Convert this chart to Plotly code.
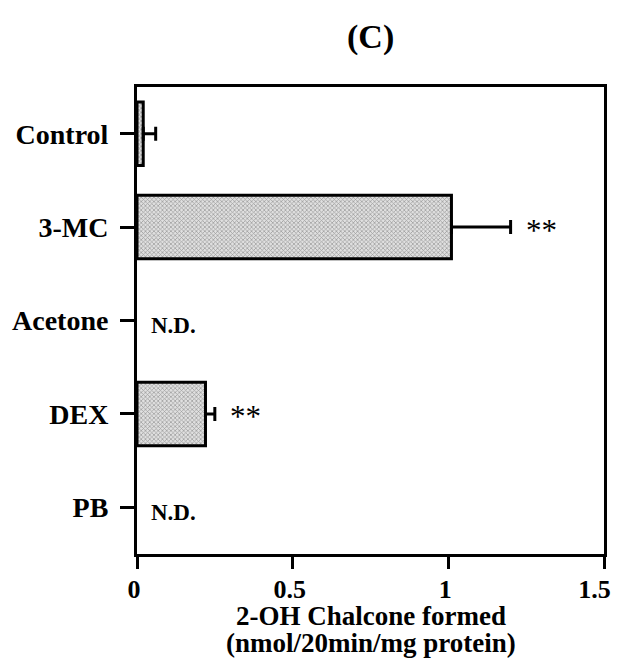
import plotly.graph_objects as go

categories = ["Control", "3-MC", "Acetone", "DEX", "PB"]
values = [0.02, 1.01, None, 0.22, None]
errors = [0.04, 0.19, 0, 0.03, 0]
x_ticks = [0, 0.5, 1, 1.5]
x_tick_labels = ["0", "0.5", "1", "1.5\u00a0\u00a0"]
significance = ["", "**", "", "**", ""]
not_detected = [False, False, True, False, True]
x_title_lines = ["2-OH Chalcone formed", "(nmol/20min/mg protein)"]

FONT = "Liberation Serif"

fig = go.Figure()
fig.add_trace(go.Bar(
    y=list(range(len(categories))),
    x=values,
    orientation="h",
    width=0.68,
    marker=dict(
        color="#c8c8c8",
        line=dict(color="black", width=3),
        pattern=dict(shape="x", size=3, solidity=0.4, fgcolor="#505050", bgcolor="#e0e0e0"),
    ),
    error_x=dict(type="data", symmetric=False, array=errors, arrayminus=[0] * len(errors),
                 color="black", thickness=3, width=7),
    showlegend=False,
))

for i, cat in enumerate(categories):
    if significance[i]:
        fig.add_annotation(x=values[i] + errors[i], y=i, text=significance[i], showarrow=False,
                           xanchor="left", yanchor="middle", xshift=13, yshift=-3,
                           font=dict(family=FONT, size=31, color="black"))
    if not_detected[i]:
        fig.add_annotation(x=0, y=i, text="<b>N.D.</b>", showarrow=False,
                           xanchor="left", yanchor="middle", xshift=12, yshift=-5,
                           font=dict(family=FONT, size=23, color="black"))

fig.add_annotation(x=0.5, y=1, xref="paper", yref="paper", yanchor="middle", yshift=50,
                   text="<b>(C)</b>", showarrow=False,
                   font=dict(family=FONT, size=34, color="black"))

for j, line in enumerate(x_title_lines):
    fig.add_annotation(x=0.5, y=0, xref="paper", yref="paper", yanchor="middle",
                       yshift=-62 - 27 * j, text="<b>" + line + "</b>", showarrow=False,
                       font=dict(family=FONT, size=27, color="black"))

fig.update_layout(
    width=611, height=651,
    margin=dict(l=129, r=15, t=79, b=105, autoexpand=False),
    plot_bgcolor="white", paper_bgcolor="white",
)
fig.update_xaxes(
    range=[0, 1.5], tickvals=x_ticks, ticktext=x_tick_labels,
    showgrid=False, zeroline=False, automargin=False,
    showline=True, linecolor="black", linewidth=3, mirror=True,
    ticks="outside", ticklen=12, tickwidth=3, tickcolor="black",
    ticklabelstandoff=-2, ticklabelshift=-3, ticklabeloverflow="allow",
    tickfont=dict(family=FONT, size=26, color="black", weight="bold"),
)
fig.update_yaxes(
    range=[4.5, -0.5], tickvals=list(range(len(categories))), ticktext=categories,
    showgrid=False, zeroline=False, automargin=False,
    showline=True, linecolor="black", linewidth=3, mirror=True,
    ticks="outside", ticklen=14, tickwidth=3, tickcolor="black",
    ticklabelstandoff=6,
    tickfont=dict(family=FONT, size=28, color="black", weight="bold"),
)

fig.write_html("out.html")
